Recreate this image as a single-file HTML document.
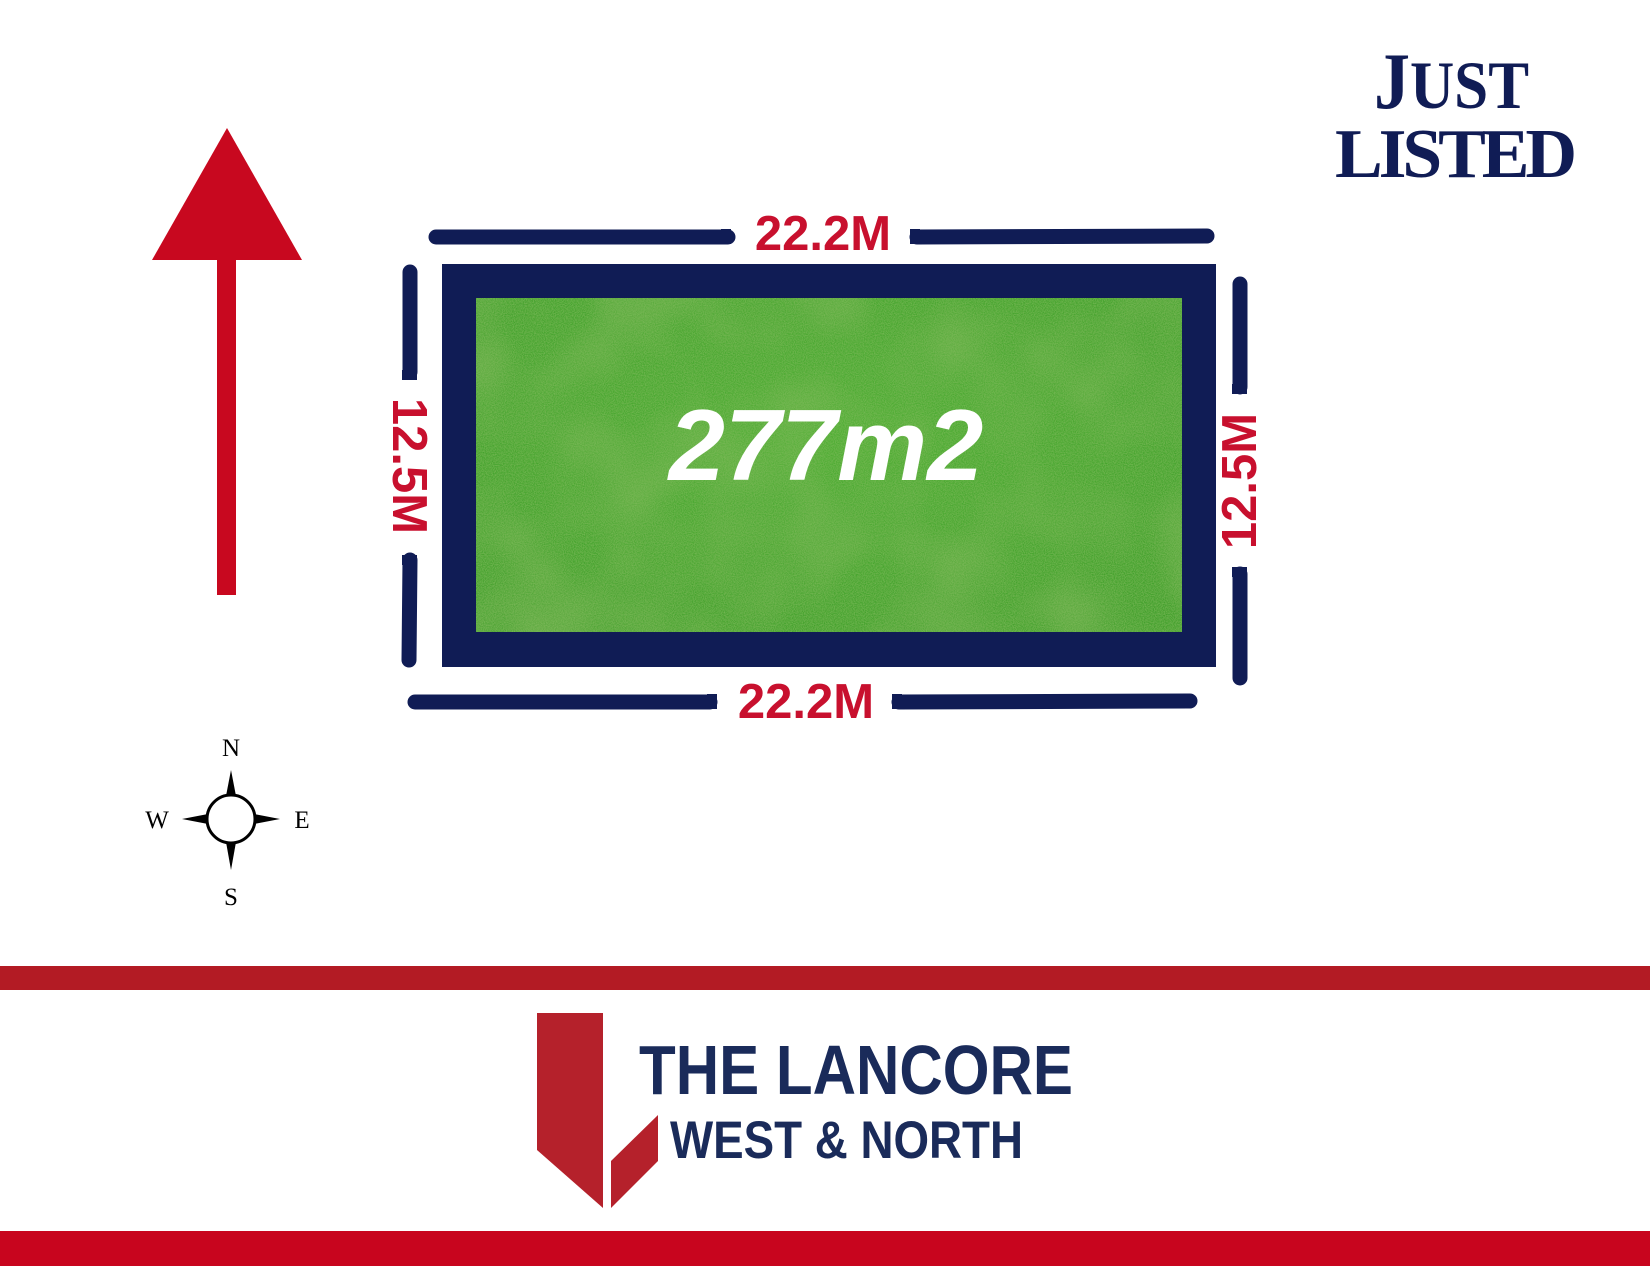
<!DOCTYPE html>
<html><head><meta charset="utf-8"><style>
html,body{margin:0;padding:0;background:#fff;}
svg{display:block}
</style></head><body>
<svg width="1650" height="1275" viewBox="0 0 1650 1275" xmlns="http://www.w3.org/2000/svg">
<defs>
<filter id="grass" x="0" y="0" width="100%" height="100%">
<feTurbulence type="fractalNoise" baseFrequency="0.9" numOctaves="2" seed="3" result="n"/>
<feColorMatrix in="n" type="matrix" values="0 0 0 0 0.2  0 0 0 0 0.5  0 0 0 0 0.1  0 0 0 1.4 -0.4" result="c"/>
<feComposite in="c" in2="SourceGraphic" operator="over"/>
</filter>
<filter id="blot" x="0" y="0" width="100%" height="100%">
<feTurbulence type="fractalNoise" baseFrequency="0.012" numOctaves="2" seed="7" result="n"/>
<feColorMatrix in="n" type="matrix" values="0 0 0 0 0.25  0 0 0 0 0.5  0 0 0 0 0.12  0 0 0 1.6 -0.6"/>
</filter>
<radialGradient id="g1" cx="0.5" cy="0.4" r="0.7">
<stop offset="0" stop-color="#4fae33"/><stop offset="1" stop-color="#41a02b"/>
</radialGradient>
</defs>
<rect width="1650" height="1275" fill="#fff"/>
<!-- arrow -->
<polygon points="227,128 302,260 152,260" fill="#c8081f"/>
<rect x="217" y="258" width="19" height="337" fill="#c8081f"/>
<!-- plot -->
<rect x="442" y="264" width="774" height="403" fill="#101c55"/>
<rect x="476" y="298" width="706" height="334" fill="url(#g1)" filter="url(#grass)"/>
<rect x="476" y="298" width="706" height="334" filter="url(#blot)" opacity="0.6"/>
<text x="826" y="480" text-anchor="middle" font-family="Liberation Sans, sans-serif" font-weight="bold" font-style="italic" font-size="101" fill="#fff">277m2</text>
<!-- dimension lines -->
<g stroke="#101c55" stroke-width="15" stroke-linecap="round">
<line x1="436" y1="237" x2="728" y2="237"/>
<line x1="917" y1="237" x2="1207" y2="236"/>
<line x1="415" y1="702" x2="710" y2="702"/>
<line x1="899" y1="702" x2="1190" y2="701"/>
<line x1="410" y1="272" x2="410" y2="372"/>
<line x1="410" y1="560" x2="409" y2="660"/>
<line x1="1240" y1="284" x2="1240" y2="387"/>
<line x1="1240" y1="574" x2="1240" y2="678"/>
</g>
<g stroke="none" fill="#101c55">
<rect x="721" y="229" width="10" height="15"/>
<rect x="910" y="229" width="10" height="15"/>
<rect x="707" y="694" width="10" height="15"/>
<rect x="892" y="694" width="10" height="15"/>
<rect x="402" y="370" width="15" height="10"/>
<rect x="402" y="555" width="15" height="10"/>
<rect x="1232" y="384" width="15" height="10"/>
<rect x="1232" y="567" width="15" height="10"/>
</g>
<g font-family="Liberation Sans, sans-serif" font-weight="bold" font-size="49" fill="#c8102e" text-anchor="middle">
<text x="823" y="250">22.2M</text>
<text x="806" y="718">22.2M</text>
<text transform="translate(393,466) rotate(90)">12.5M</text>
<text transform="translate(1256,481) rotate(-90)">12.5M</text>
</g>
<!-- compass -->
<g fill="#000">
<polygon points="231,770 226,796 236,796"/>
<polygon points="231,870 226,842 236,842"/>
<polygon points="182,819 208,814 208,824"/>
<polygon points="280,819 254,814 254,824"/>
</g>
<circle cx="231" cy="819" r="24" fill="#fff" stroke="#000" stroke-width="3"/>
<g font-family="Liberation Serif, serif" font-size="25" fill="#000" text-anchor="middle">
<text x="231" y="756">N</text>
<text x="231" y="905">S</text>
<text x="157" y="828">W</text>
<text x="302" y="828">E</text>
</g>
<!-- just listed -->
<g font-family="Liberation Serif, serif" font-weight="bold" fill="#101c55">
<text x="1374" y="108" font-size="80" transform="translate(1374,0) scale(0.9,1) translate(-1374,0)">J<tspan font-size="68">UST</tspan></text>
<text x="1335" y="177" font-size="70" letter-spacing="-4" textLength="238" lengthAdjust="spacingAndGlyphs">LISTED</text>
</g>
<!-- bands -->
<rect x="0" y="966" width="1650" height="24" fill="#b31b24"/>
<rect x="0" y="1231" width="1650" height="35" fill="#c8051e"/>
<!-- logo -->
<polygon points="537,1013 603,1013 603,1208 537,1150" fill="#b5212b"/>
<polygon points="611,1161 658,1115 658,1161 611,1208" fill="#b5212b"/>
<g font-family="Liberation Sans Narrow, Liberation Sans, sans-serif" font-weight="bold" fill="#1a2b5a">
<text x="639" y="1094" font-size="70" textLength="434" lengthAdjust="spacingAndGlyphs">THE LANCORE</text>
<text x="670" y="1158" font-size="53" textLength="353" lengthAdjust="spacingAndGlyphs">WEST &amp; NORTH</text>
</g>
</svg>
</body></html>
